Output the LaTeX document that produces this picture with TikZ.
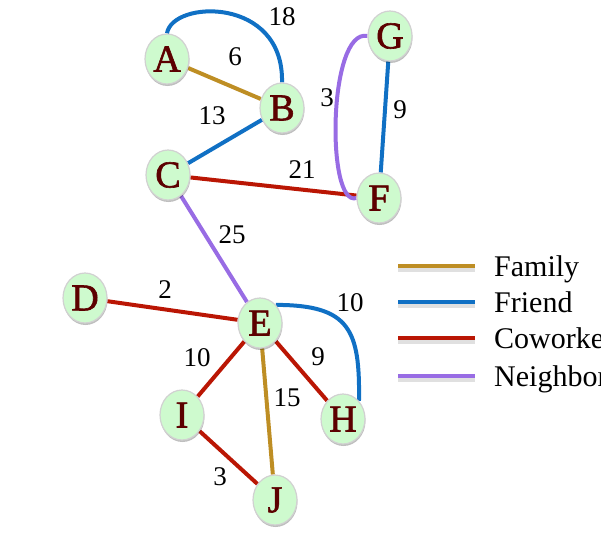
\documentclass[tikz,border=0pt]{standalone}
\usepackage{fontspec}
\setmainfont{Liberation Serif}
\newfontfamily\vertexfont[FakeBold=1.6]{Liberation Serif}
\usetikzlibrary{shapes.geometric,shadows,backgrounds}
\definecolor{famc}{RGB}{190,142,36}
\definecolor{frc}{RGB}{16,112,196}
\definecolor{cowc}{RGB}{186,22,4}
\definecolor{neic}{RGB}{152,108,228}
\definecolor{vfill}{RGB}{206,250,206}
\definecolor{vtext}{RGB}{92,0,0}
\tikzset{
  vertex/.style={ellipse, minimum width=44pt, minimum height=50pt, inner sep=0pt,
    fill=vfill, draw=black!18, line width=1.2pt, text=vtext,
    font=\fontsize{38}{38}\vertexfont\addfontfeature{FakeBold=1.6},
    drop shadow={shadow xshift=0.5pt, shadow yshift=-2pt, opacity=0.25, fill=black}},
  link/.style={line width=4pt},
  family/.style={link, draw=famc},
  friend/.style={link, draw=frc},
  cowork/.style={link, draw=cowc},
  neigh/.style={link, draw=neic},
  wlabel/.style={font=\fontsize{27}{27}\selectfont, inner sep=0pt},
  legtext/.style={font=\fontsize{30}{30}\selectfont, anchor=base west, inner sep=0pt},
  legshadow/.style={line width=4pt, draw=black, opacity=0.12}
}
\begin{document}
\begin{tikzpicture}[x=1pt,y=-1pt]
\useasboundingbox (0,0) rectangle (601,547);

% vertices
\node[vertex] (A) at (167,59) {A};
\node[vertex] (B) at (282,108) {B};
\node[vertex] (C) at (168,175) {C};
\node[vertex] (G) at (390,36) {G};
\node[vertex] (F) at (379,198) {F};
\node[vertex] (D) at (85,298) {D};
\node[vertex] (E) at (260,323) {E};
\node[vertex] (H) at (343,419) {H};
\node[vertex] (I) at (182,415) {I};
\node[vertex] (J) at (275,500) {J};

% connectors, kept behind the vertices
\begin{pgfonlayer}{background}
\draw[family] (A) -- (B);
\draw[friend] (A.north) .. controls (172,0) and (284,-4) .. (B.north);
\draw[friend] (B) -- (C);
\draw[cowork] (C) -- (F);
\draw[neigh] (G.west) .. controls (328,28) and (326,208) .. (F.west);
\draw[friend] (G) -- (F);
\draw[neigh] (C) -- (E);
\draw[cowork] (D) -- (E);
\draw[friend] (E.north east) .. controls (350,305) and (360,330) .. (H.north east);
\draw[cowork] (E) -- (H);
\draw[cowork] (E) -- (I);
\draw[family] (E) -- (J);
\draw[cowork] (I) -- (J);
\end{pgfonlayer}

% weights
\node[wlabel] (w18) at (282,17) {18};
\node[wlabel] (w6) at (235,57) {6};
\node[wlabel] (w13) at (212,116) {13};
\node[wlabel] (w21) at (302,170) {21};
\node[wlabel] (w3a) at (327,98) {3};
\node[wlabel] (w9a) at (400,110) {9};
\node[wlabel] (w25) at (232,235) {25};
\node[wlabel] (w2) at (165,290) {2};
\node[wlabel] (w10a) at (350,303) {10};
\node[wlabel] (w10b) at (197,358) {10};
\node[wlabel] (w9b) at (318,357) {9};
\node[wlabel] (w15) at (287,398) {15};
\node[wlabel] (w3b) at (220,477) {3};

% legend
\foreach \y/\s/\t in {266/family/Family, 302/friend/Friend, 338/cowork/Coworker, 376/neigh/Neighbor}{
  \coordinate (l1) at (398,\y+4);
  \coordinate (l2) at (475,\y+4);
  \draw[legshadow] (l1) -- (l2);
  \coordinate (m1) at (398,\y);
  \coordinate (m2) at (475,\y);
  \draw[\s, line width=4pt] (m1) -- (m2);
  \node[legtext] (lt\s) at (494,\y+10) {\t};
}
\end{tikzpicture}
\end{document}
